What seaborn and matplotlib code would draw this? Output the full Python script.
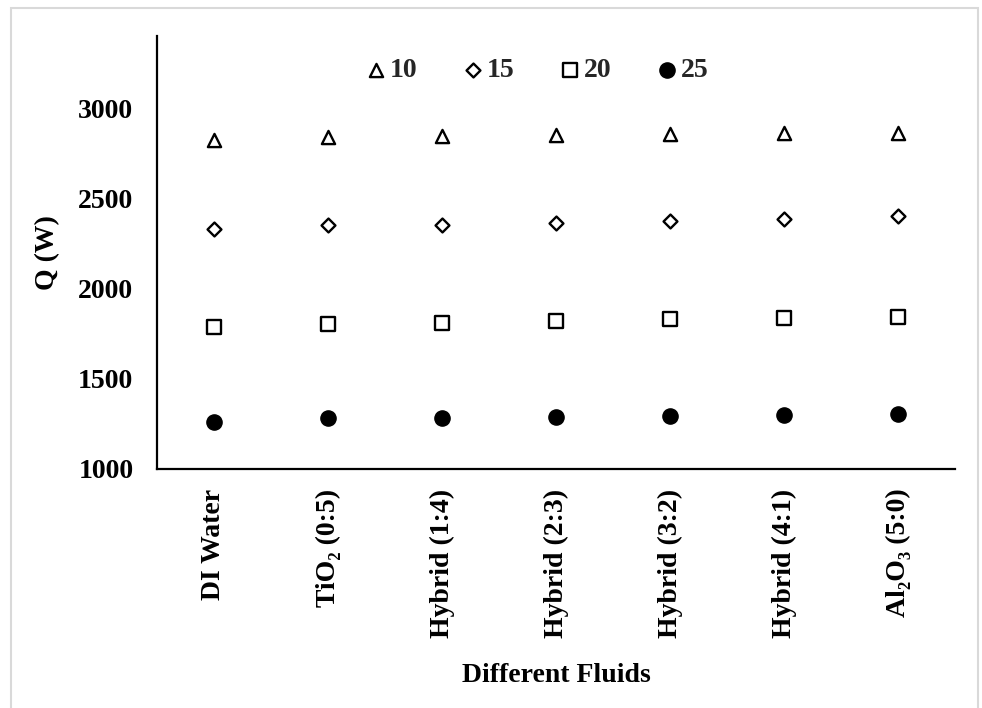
import matplotlib
matplotlib.use("Agg")
import matplotlib.pyplot as plt
import seaborn as sns
import pandas as pd
from matplotlib.patches import Rectangle

fluids = ["DI Water", "TiO\u2082 (0:5)", "Hybrid (1:4)", "Hybrid (2:3)",
          "Hybrid (3:2)", "Hybrid (4:1)", "Al\u2082O\u2083 (5:0)"]
q_10 = [2826, 2839, 2844, 2854, 2859, 2862, 2863]
q_15 = [2333, 2351, 2351, 2366, 2373, 2384, 2403]
q_20 = [1785, 1804, 1809, 1818, 1829, 1837, 1840]
q_25 = [1261, 1280, 1280, 1288, 1294, 1302, 1307]
series_labels = ["10", "15", "20", "25"]
y_ticks = [1000, 1500, 2000, 2500, 3000]

sns.set_theme(style="white")
plt.rcParams['font.family'] = ['Liberation Serif', 'DejaVu Serif']
plt.rcParams['font.weight'] = 'bold'

fig = plt.figure(figsize=(9.82, 7.08), dpi=100)
ax = fig.add_axes([157/982, 1-469/708, (955-157)/982, (469-36)/708])

styles = [
    dict(marker="^", s=90, color="white", edgecolor="black", linewidth=1.7),
    dict(marker="D", s=50, color="white", edgecolor="black", linewidth=1.7),
    dict(marker="s", s=105, color="white", edgecolor="black", linewidth=1.7),
    dict(marker="o", s=120, color="black", edgecolor="black", linewidth=1.0),
]
for vals, lab, st in zip([q_10, q_15, q_20, q_25], series_labels, styles):
    df = pd.DataFrame({"Fluid": fluids, "Q": vals})
    sns.scatterplot(data=df, x="Fluid", y="Q", ax=ax, label=lab, zorder=3, **st)

ax.set_xlim(-0.5, len(fluids) - 0.5)
ax.set_ylim(1000, 3400)
ax.set_yticks(y_ticks)
ax.set_yticklabels([str(t) for t in y_ticks])
ax.set_xticks(range(len(fluids)))
ax.set_xticklabels(fluids, rotation=90)
for sp in ["top", "right"]:
    ax.spines[sp].set_visible(False)
for sp in ["left", "bottom"]:
    ax.spines[sp].set_color("black")
    ax.spines[sp].set_linewidth(1.6)
ax.tick_params(axis="both", length=0, labelsize=20, colors="black")
ax.tick_params(axis="y", pad=17)
ax.tick_params(axis="x", pad=14)
for t in ax.get_xticklabels() + ax.get_yticklabels():
    t.set_fontweight("bold")
ax.set_xlabel("Different Fluids", fontsize=20, fontweight="bold", labelpad=18, color="black")
ax.set_ylabel("Q (W)", fontsize=20, fontweight="bold", labelpad=13, color="black")

leg = ax.legend(loc="center", bbox_to_anchor=(0.478, 0.921), ncol=4, frameon=False,
                handlelength=0.6, handletextpad=0.2, columnspacing=1.7,
                prop={"weight": "bold", "size": 20})

fig.patches.append(Rectangle((11/982, -0.01), (978-11)/982, 1.01 - 8/708,
                             transform=fig.transFigure, fill=False,
                             edgecolor="#d9d9d9", linewidth=1.5))

fig.savefig("out.png", dpi=100)
